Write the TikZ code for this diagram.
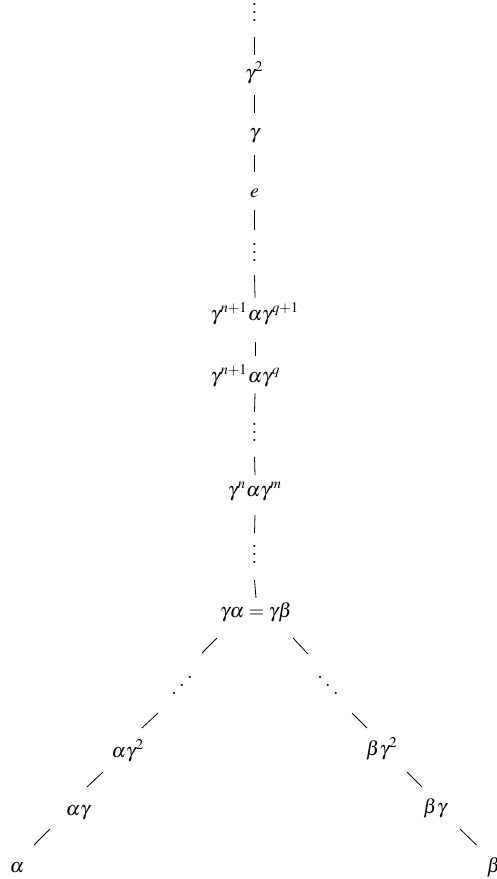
\documentclass[tikz,border=0pt]{standalone}
\usepackage{mathptmx}
\usetikzlibrary{calc}
\newcommand{\myddots}{\mathinner{\mkern1mu\raise8pt\hbox{.}\mkern2mu\raise4pt\hbox{.}\mkern2mu\hbox{.}\mkern1mu}}
\newcommand{\myiddots}{\mathinner{\mkern1mu\hbox{.}\mkern2mu\raise4pt\hbox{.}\mkern2mu\raise8pt\hbox{.}\mkern1mu}}
\begin{document}
\begin{tikzpicture}[x=0.5pt,y=-0.5pt,
  nd/.style={inner sep=0pt,anchor=base},
  link/.style={line width=0.4pt}]
\useasboundingbox (0,0) rectangle (497,879);
% vertical column
\node[nd] (vd1) at (254.5,21) {$\vdots$};
\node[nd] (g2) at (254.5,79) {$\gamma^2$};
\node[nd] (g1) at (254.5,138) {$\gamma$};
\node[nd] (e) at (254.5,197) {$e$};
\node[nd] (vd2) at (254.5,261) {$\vdots$};
\node[nd] (A) at (255,320) {$\gamma^{n+1}\alpha\gamma^{q+1}$};
\node[nd,anchor=base west] (B) at ($(A.base west)+(0,62)$) {$\gamma^{n+1}\alpha\gamma^{q}$};
\node[nd] (vd3) at (254.5,441.5) {$\vdots$};
\node[nd] (C) at (255,496) {$\gamma^{n}\alpha\gamma^{m}$};
\node[nd] (vd4) at (254.5,563) {$\vdots$};
\node[nd] (D) at (256,617) {$\gamma\alpha=\gamma\beta$};
% left branch
\node[nd] (ldd) at (182,694) {$\myiddots$};
\node[nd] (a2) at (128,757) {$\alpha\gamma^2$};
\node[nd] (a1) at (78,815) {$\alpha\gamma$};
\node[nd] (a0) at (17,872) {$\alpha$};
% right branch
\node[nd] (rdd) at (328,694) {$\myddots$};
\node[nd] (b2) at (382,755) {$\beta\gamma^2$};
\node[nd] (b1) at (435,813) {$\beta\gamma$};
\node[nd] (b0) at (493.5,872) {$\beta$};
% vertical links
\draw[link] ($(vd1.base)+(0,16)$) -- ($(g2.base)+(0,-24)$);
\draw[link] ($(g2.base)+(0,16)$) -- ($(g1.base)+(0,-25)$);
\draw[link] ($(g1.base)+(0,17)$) -- ($(e.base)+(0,-25)$);
\draw[link] ($(e.base)+(0,13)$) -- ($(vd2.base)+(0,-31)$);
\draw[link] ($(vd2.base)+(0,14)$) -- ($(A.base)+(0,-22)$);
\draw[link] ($(A.base)+(0,22)$) -- ($(A.base |- B.base)+(0,-26)$);
\draw[link] ($(A.base |- B.base)+(0,11)$) -- ($(vd3.base)+(0,-29.5)$);
\draw[link] ($(vd3.base)+(0,15.5)$) -- ($(C.base)+(0,-21)$);
\draw[link] ($(C.base)+(0,19)$) -- ($(vd4.base)+(0,-30)$);
\draw[link] ($(vd4.base)+(0,17)$) -- ($(D.base)+(0,-19)$);
% left links
\draw[link] ($(D.base)+(-39,21)$) -- ($(ldd.base)+(20,-41)$);
\draw[link] ($(ldd.base)+(-24,19)$) -- ($(a2.base)+(14,-29)$);
\draw[link] ($(a2.base)+(-25,15)$) -- ($(a1.base)+(9,-28)$);
\draw[link] ($(a1.base)+(-28,14)$) -- ($(a0.base)+(17,-27)$);
% right links
\draw[link] ($(D.base)+(37,21)$) -- ($(rdd.base)+(-20,-40)$);
\draw[link] ($(rdd.base)+(24,19)$) -- ($(b2.base)+(-15,-27)$);
\draw[link] ($(b2.base)+(25,17)$) -- ($(b1.base)+(-13,-26)$);
\draw[link] ($(b1.base)+(25,16)$) -- ($(b0.base)+(-17,-27)$);
\end{tikzpicture}
\end{document}
